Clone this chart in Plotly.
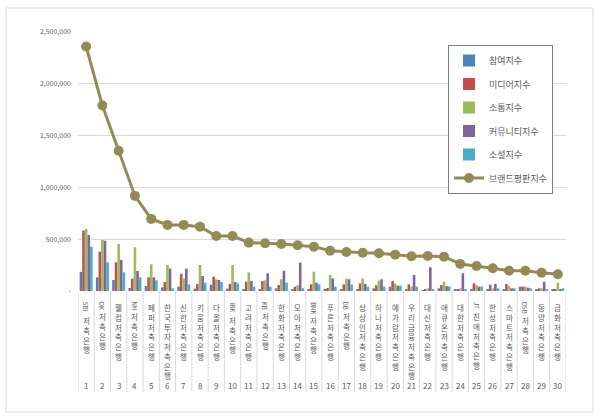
import plotly.graph_objects as go

# ---------------- data ----------------
banks = ["SBI저축은행", "OK저축은행", "웰컴저축은행", "NH저축은행", "페퍼저축은행",
         "한국투자저축은행", "신한저축은행", "키움저축은행", "다올저축은행", "IBK저축은행",
         "고려저축은행", "KB저축은행", "한화저축은행", "모아저축은행", "BNK저축은행",
         "푸른저축은행", "DB저축은행", "상상인저축은행", "하나저축은행", "예가람저축은행",
         "우리금융저축은행", "대신저축은행", "애큐온저축은행", "대한저축은행", "JT친애저축은행",
         "한성저축은행", "스마트저축은행", "OSB저축은행", "동양저축은행", "금화저축은행"]
ranks = list(range(1, 31))

participation = [185000, 132000, 106000, 29000, 48000, 35000, 42000, 23000, 61000, 23000,
                 16000, 10000, 26000, 10000, 16000, 10000, 19000, 19000, 26000, 42000,
                 16000, 5000, 26000, 10000, 19000, 19000, 19000, 42000, 16000, 10000]
media = [583000, 380000, 277000, 119000, 132000, 87000, 164000, 68000, 138000, 68000,
         90000, 97000, 58000, 42000, 64000, 29000, 64000, 74000, 55000, 97000,
         64000, 19000, 58000, 19000, 74000, 61000, 68000, 42000, 26000, 10000]
communication = [598000, 493000, 454000, 422000, 258000, 251000, 122000, 251000, 113000, 251000,
                 180000, 103000, 113000, 55000, 187000, 155000, 119000, 122000, 100000, 71000,
                 42000, 26000, 90000, 26000, 58000, 26000, 48000, 42000, 26000, 80000]
community = [541000, 485000, 300000, 193000, 132000, 216000, 216000, 145000, 106000, 87000,
             97000, 171000, 196000, 274000, 80000, 122000, 113000, 68000, 113000, 52000,
             155000, 229000, 48000, 171000, 42000, 68000, 26000, 32000, 90000, 16000]
social = [428000, 277000, 180000, 132000, 103000, 26000, 64000, 80000, 87000, 74000,
          42000, 42000, 80000, 26000, 64000, 42000, 64000, 42000, 42000, 52000,
          42000, 10000, 45000, 19000, 42000, 26000, 26000, 26000, 16000, 26000]
brand = [2360000, 1790000, 1353000, 918000, 696000, 638000, 638000, 621000, 531000, 531000,
         467000, 461000, 454000, 441000, 428000, 389000, 377000, 370000, 364000, 351000,
         335000, 338000, 331000, 261000, 242000, 219000, 196000, 196000, 177000, 161000]

series_names = ["참여지수", "미디어지수", "소통지수", "커뮤니티지수", "소셜지수"]
series_values = [participation, media, communication, community, social]
series_colors = ["#4F81BD", "#C0504D", "#9BBB59", "#8064A2", "#4BACC6"]
line_name = "브랜드평판지수"
line_color = "#948A54"

ytick_vals = [0, 500000, 1000000, 1500000, 2000000, 2500000]
ytick_text = ["-", "500,000", "1,000,000", "1,500,000", "2,000,000", "2,500,000"]

FONT = "Noto Sans CJK KR, Noto Sans, sans-serif"

# ---------------- figure ----------------
fig = go.Figure()
for i, (nm, vals, col) in enumerate(zip(series_names, series_values, series_colors)):
    fig.add_trace(go.Bar(x=ranks, y=vals, name=nm, marker_color=col,
                         marker_line_width=0, legendgroup=f"g{i}"))
fig.add_trace(go.Scatter(x=ranks, y=brand, name=line_name, mode="lines+markers",
                         line=dict(color=line_color, width=3),
                         marker=dict(color=line_color, size=10),
                         legendgroup="g5"))

L, R, T, B = 78, 34, 32, 128
W, H = 600, 419
pw, ph = W - L - R, H - T - B

def px_x(p):
    return (p - L) / pw

def px_y(p):
    return (H - B - p) / ph

shapes = []
# category separators below the axis
for k in range(len(ranks) + 1):
    shapes.append(dict(type="line", xref="x", yref="paper", x0=k + 0.5, x1=k + 0.5,
                       y0=0, y1=px_y(392), line=dict(color="#D9D9D9", width=1)))
# outer chart border
shapes.append(dict(type="rect", xref="paper", yref="paper",
                   x0=px_x(6), x1=px_x(593), y0=px_y(412), y1=px_y(8),
                   line=dict(color="#D9D9D9", width=1), layer="below"))

annotations = []
for r, name in zip(ranks, banks):
    j = 0
    while j < len(name) and name[j].isascii():
        j += 1
    latin, korean = name[:j], name[j:]
    off = 9
    if latin:
        annotations.append(dict(x=r, y=0, xref="x", yref="paper", text=latin,
                                textangle=90, showarrow=False, xanchor="center",
                                yanchor="top", yshift=-off,
                                font=dict(size=6, color="#595959", family=FONT)))
        off += len(latin) * 4 + 1
    annotations.append(dict(x=r, y=0, xref="x", yref="paper", text="<br>".join(korean),
                            showarrow=False, xanchor="center", yanchor="top", yshift=-off,
                            font=dict(size=7.5, color="#595959", family=FONT)))
    annotations.append(dict(x=r, y=0, xref="x", yref="paper", text=str(r),
                            showarrow=False, xanchor="center", yanchor="middle", yshift=-94,
                            font=dict(size=8, color="#595959", family=FONT)))

fig.update_layout(
    width=W, height=H,
    margin=dict(l=L, r=R, t=T, b=B),
    paper_bgcolor="white", plot_bgcolor="white",
    barmode="group", bargap=0.2, bargroupgap=0,
    font=dict(family=FONT, color="#595959"),
    showlegend=True,
    legend=dict(x=px_x(448), y=px_y(45), xanchor="left", yanchor="top",
                bordercolor="#7F7F7F", borderwidth=1, bgcolor="white",
                font=dict(size=9, color="#595959", family=FONT),
                tracegroupgap=4.5, traceorder="grouped"),
    xaxis=dict(range=[0.5, 30.5], showticklabels=False, showgrid=False, zeroline=False,
               showline=False, ticks=""),
    yaxis=dict(range=[0, 2500000], tickvals=ytick_vals, ticktext=ytick_text,
               showgrid=True, gridcolor="#D9D9D9", gridwidth=1, zeroline=False,
               showline=False, ticks="", ticklabelstandoff=6,
               tickfont=dict(size=7, color="#595959", family=FONT)),
    shapes=shapes,
    annotations=annotations,
)

fig.write_html("out.html", config={"displayModeBar": False})
